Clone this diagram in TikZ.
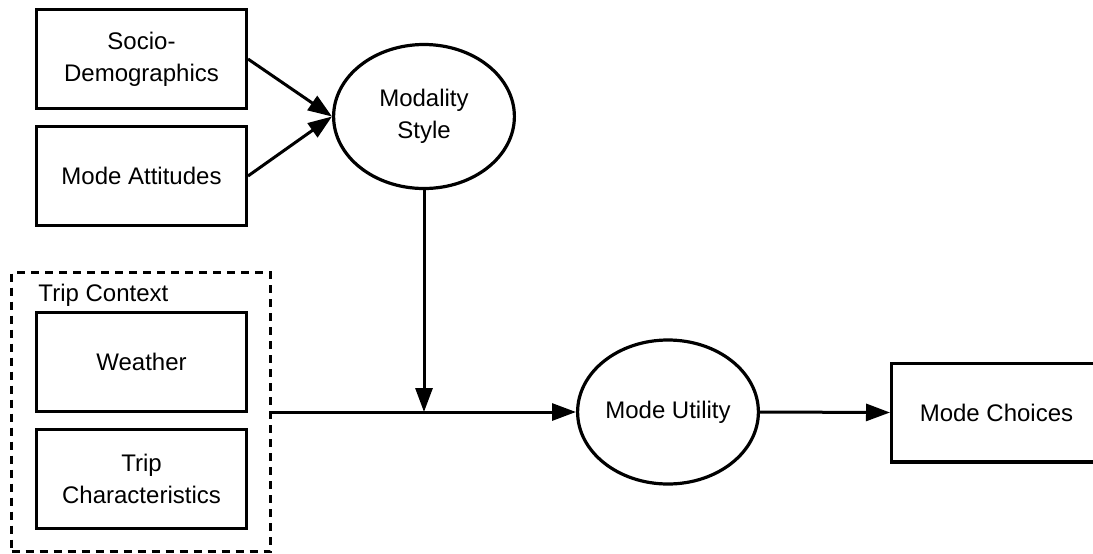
\documentclass[tikz,border=0pt]{standalone}
\usepackage{fontspec}
\setmainfont{Liberation Sans}
\usetikzlibrary{arrows.meta,shapes.geometric}
\begin{document}
\begin{tikzpicture}[x=0.5pt,y=-0.5pt,line width=1.5pt,
    every node/.style={font=\fontsize{12}{16}\selectfont,align=center,inner sep=0pt},
    box/.style={draw,line width=1.7pt,minimum width=104.8pt,minimum height=49.3pt},
    oval/.style={draw,ellipse,line width=1.6pt,minimum width=90.4pt,minimum height=72pt},
    arr/.style={-{Triangle[length=12pt,width=8.5pt]}}]
  \useasboundingbox(0,0)rectangle(1093,553);
  % left column
  \node[box](socio)at(141.5,59){Socio-\\Demographics};
  \node[box](attit)at(141.5,176){Mode Attitudes};
  \node[draw,dashed,dash pattern=on 4pt off 3pt,minimum width=129.5pt,minimum height=139.5pt](ctx)at(141,412){};
  \node[anchor=base west](ctxlabel)at(37,301){Trip Context};
  \node[box](weather)at(141.5,362){Weather};
  \node[box](tripch)at(141.5,479){Trip\\Characteristics};
  % latent variables and outcome
  \node[oval](style)at(424,116.5){Modality\\Style};
  \node[oval](util)at(668,412){Mode Utility};
  \node[box](choices)at(996.5,412.5){Mode Choices};
  \foreach \x in{socio,attit}
    \draw[arr](\x.east)--(style.west);
  \draw(ctx.east)--(ctx.east-|style.south)coordinate(join);
  \draw[arr](style.south)--(join);
  \draw[arr](join)--(util.west);
  \draw[arr](util.east)--(choices.west);
\end{tikzpicture}
\end{document}
